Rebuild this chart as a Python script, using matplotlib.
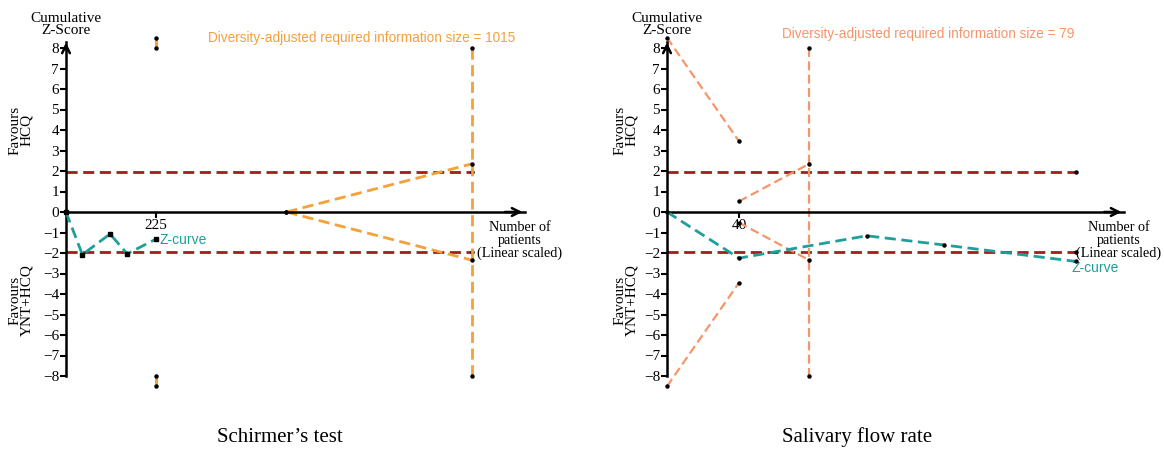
import numpy as np
import matplotlib.pyplot as plt

# Schirmer's test panel
sch_n = [0, 41, 110, 153, 225]
sch_z = [0, -2.08, -1.07, -2.04, -1.32]
sch_ris = 1015
sch_bound_n = [225, 225]
sch_bound_z = [8.0, 8.5]
sch_fut_n = [551, 1015]
sch_fut_z = [0, 2.35]
sch_xend = 1148

# Salivary flow rate panel
sal_n = [0, 40, 111, 154, 227]
sal_z = [0, -2.25, -1.16, -1.61, -2.41]
sal_ris = 79
sal_bound_n = [0, 40]
sal_bound_z = [8.5, 3.45]
sal_fut_n = [40, 79]
sal_fut_z = [0.52, 2.35]
sal_xend = 254

yticks = list(range(-8, 9))
crit = 1.96

teal = "#1f9e9a"
red = "#a51c1c"
serif = "Liberation Serif"
sans = "Liberation Sans"

W, H = 1164, 450
fig = plt.figure(figsize=(W / 100, H / 100), dpi=100)


def make_axes(left_px, width_px, xmax):
    ax = fig.add_axes([left_px / W, 53.5 / H, width_px / W, 369 / H])
    ax.set_xlim(0, xmax)
    ax.set_ylim(-9, 9)
    for s in ["top", "right"]:
        ax.spines[s].set_visible(False)
    ax.spines["bottom"].set_position("zero")
    ax.spines["left"].set_linewidth(1.8)
    ax.spines["bottom"].set_linewidth(1.8)
    ax.spines["left"].set_bounds(-8, 8.3)
    ax.set_yticks(yticks)
    ax.set_yticklabels([str(t).replace("-", "\u2212") for t in yticks],
                       fontfamily=serif, fontsize=11)
    ax.tick_params(axis="y", direction="out", length=4, width=1.5, pad=1)
    ax.tick_params(axis="x", direction="out", length=4, width=1.5, pad=1,
                   labelsize=11)
    ax.annotate("", xy=(0, 8.4), xytext=(0, 7.8),
                arrowprops=dict(arrowstyle="->", lw=1.8, color="black",
                                mutation_scale=14), annotation_clip=False)
    ax.text(0, 8.55, "Cumulative\nZ-Score", ha="center", va="bottom",
            fontfamily=serif, fontsize=11, linespacing=0.85)
    return ax


def finish_x(ax, xend, tick, xtext):
    ax.spines["bottom"].set_bounds(0, xend)
    ax.annotate("", xy=(xend, 0), xytext=(xend * 0.95, 0),
                arrowprops=dict(arrowstyle="->", lw=1.8, color="black",
                                mutation_scale=14), annotation_clip=False)
    ax.set_xticks([tick])
    for lab in ax.get_xticklabels():
        lab.set_fontfamily(serif)
    ax.text(xtext, -0.45, "Number of\npatients\n(Linear scaled)", ha="center",
            va="top", fontfamily=serif, fontsize=10.2, linespacing=0.95)


dash_kw = dict(dashes=(4, 2))
dot_kw = dict(marker="o", markersize=2.2, markerfacecolor="black",
              markeredgecolor="black", clip_on=False)

# ---- left panel ----
ax1 = make_axes(66, 480, 1200)
orange1 = "#f5a03a"
ax1.plot([0, sch_ris], [crit, crit], color=red, lw=2, **dash_kw, zorder=2)
ax1.plot([0, sch_ris], [-crit, -crit], color=red, lw=2, **dash_kw, zorder=2)
ax1.plot([sch_ris, sch_ris], [crit, -crit], ls="none", **dot_kw)
ax1.plot([sch_ris, sch_ris], [8, -8], color=orange1, lw=2, **dash_kw, **dot_kw)
ax1.plot(sch_bound_n, sch_bound_z, color=orange1, lw=2.2, **dot_kw)
ax1.plot(sch_bound_n, [-z for z in sch_bound_z], color=orange1, lw=2.2, **dot_kw)
ax1.plot(sch_fut_n, sch_fut_z, color=orange1, lw=2, **dash_kw, **dot_kw)
ax1.plot(sch_fut_n, [-z for z in sch_fut_z], color=orange1, lw=2, **dash_kw, **dot_kw)
ax1.plot(sch_n, sch_z, color=teal, lw=2, **dash_kw, marker="s", markersize=3.2,
         markerfacecolor="black", markeredgecolor="black", clip_on=False, zorder=4)
ax1.text(sch_n[-1] + 10, sch_z[-1] - 0.05, "Z-curve", color=teal, fontfamily=sans,
         fontsize=10, ha="left", va="center")
ax1.text(355, 8.5, "Diversity-adjusted required information size = 1015",
         color=orange1, fontfamily=sans, fontsize=9.8, ha="left", va="center")
finish_x(ax1, sch_xend, 225, 1135)

# ---- right panel ----
ax2 = make_axes(667, 486, 270)
orange2 = "#f6956a"
ax2.plot([0, sal_n[-1]], [crit, crit], color=red, lw=2, **dash_kw, zorder=2)
ax2.plot([0, sal_n[-1]], [-crit, -crit], color=red, lw=2, **dash_kw, zorder=2)
ax2.plot([sal_n[-1], sal_n[-1]], [crit, -crit], ls="none", **dot_kw)
ax2.plot([sal_ris, sal_ris], [8, -8], color=orange2, lw=1.6, **dash_kw, **dot_kw)
ax2.plot(sal_bound_n, sal_bound_z, color=orange2, lw=1.6, **dash_kw, **dot_kw)
ax2.plot(sal_bound_n, [-z for z in sal_bound_z], color=orange2, lw=1.6, **dash_kw, **dot_kw)
ax2.plot(sal_fut_n, sal_fut_z, color=orange2, lw=1.6, **dash_kw, **dot_kw)
ax2.plot(sal_fut_n, [-z for z in sal_fut_z], color=orange2, lw=1.6, **dash_kw, **dot_kw)
ax2.plot(sal_n, sal_z, color=teal, lw=2, **dash_kw, marker="o", markersize=2.2,
         markerfacecolor="black", markeredgecolor="black", clip_on=False, zorder=4)
ax2.text(sal_n[-1] - 2, sal_z[-1] - 0.3, "Z-curve", color=teal, fontfamily=sans,
         fontsize=10, ha="left", va="center")
ax2.text(64, 8.7, "Diversity-adjusted required information size = 79",
         color=orange2, fontfamily=sans, fontsize=9.8, ha="left", va="center")
finish_x(ax2, sal_xend, 40, 251)

# side labels
for xp in (21, 626):
    fig.text(xp / W, 1 - 130 / H, "Favours\nHCQ", rotation=90, ha="center",
             va="center", fontfamily=serif, fontsize=11, linespacing=0.85)
    fig.text(xp / W, 1 - 300 / H, "Favours\nYNT+HCQ", rotation=90, ha="center",
             va="center", fontfamily=serif, fontsize=11, linespacing=0.85)

fig.text(280 / W, 1 - 437 / H, "Schirmer\u2019s test", ha="center", va="center",
         fontfamily=serif, fontsize=15)
fig.text(857 / W, 1 - 437 / H, "Salivary flow rate", ha="center", va="center",
         fontfamily=serif, fontsize=15)

fig.savefig("out.png", dpi=100)
